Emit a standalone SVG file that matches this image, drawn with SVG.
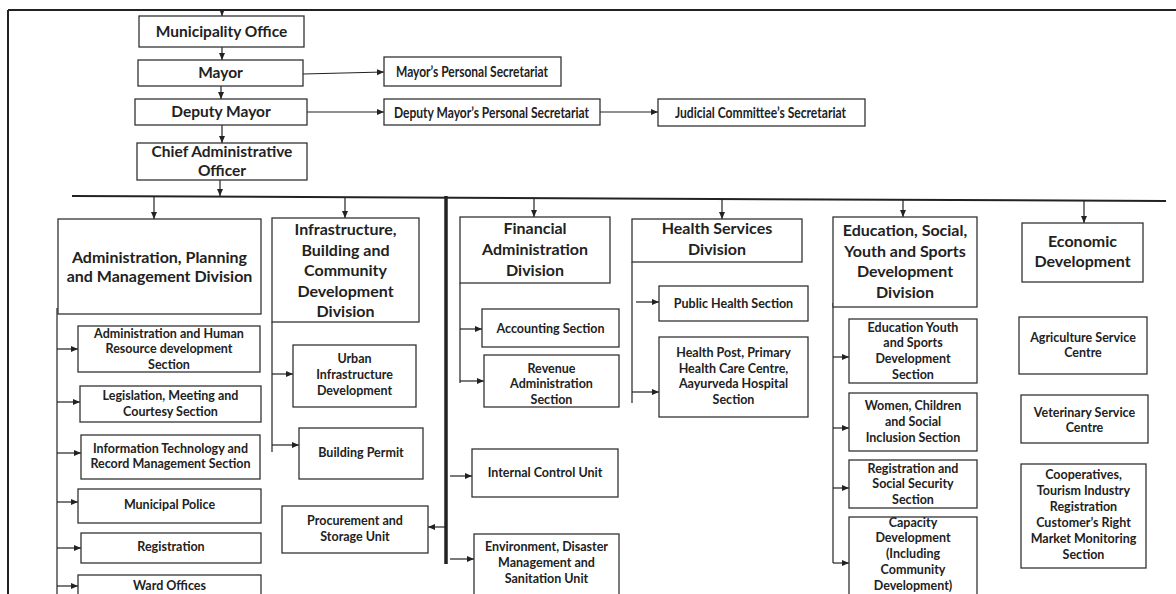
<svg xmlns="http://www.w3.org/2000/svg" width="1176" height="594" viewBox="0 0 1176 594">
<style>
rect{fill:#fff;stroke:#333;stroke-width:1.3}
text{font-family:Lato,"Liberation Sans",sans-serif;font-weight:bold;fill:#222;text-anchor:middle}
.t{font-size:15.5px}
.p{font-size:16px}
.d{font-size:16px}
.s{font-size:12.5px}
.c line,.c polyline{stroke:#222;stroke-width:1.2;fill:none}
.c .a{marker-end:url(#ah)}
</style>
<defs>
<marker id="ah" markerUnits="userSpaceOnUse" markerWidth="8" markerHeight="7" refX="7" refY="3" orient="auto"><path d="M0,0 L7,3 L0,6 z" fill="#222"/></marker>
</defs>
<rect x="0" y="0" width="1176" height="594" style="fill:#fff;stroke:none"/>
<g id="connectors" class="c">
<line x1="8" y1="10" x2="1176" y2="10" style="stroke-width:2"/>
<line x1="8" y1="10" x2="8" y2="594" style="stroke-width:2"/>
<line class="a" x1="222" y1="10" x2="222" y2="16"/>
<line class="a" x1="222" y1="47" x2="222" y2="60"/>
<line class="a" x1="221" y1="86" x2="221" y2="99"/>
<line class="a" x1="222" y1="125" x2="222" y2="143"/>
<line class="a" x1="220" y1="180" x2="220" y2="196"/>
<line class="a" x1="303" y1="74" x2="384" y2="72"/>
<line class="a" x1="307" y1="112" x2="384" y2="112"/>
<line class="a" x1="600" y1="112" x2="658" y2="112"/>
<line x1="72" y1="196" x2="1166" y2="201" style="stroke-width:2"/>
<line x1="446" y1="196" x2="446" y2="564" style="stroke-width:3.5"/>
<line class="a" x1="154" y1="197" x2="154" y2="219"/>
<line class="a" x1="345" y1="198" x2="345" y2="218"/>
<line class="a" x1="534" y1="199" x2="534" y2="217"/>
<line class="a" x1="722" y1="199" x2="722" y2="219"/>
<line class="a" x1="903" y1="200" x2="903" y2="217"/>
<line class="a" x1="1084" y1="201" x2="1084" y2="223"/>
<line x1="57" y1="308" x2="57" y2="594"/>
<line class="a" x1="57" y1="349" x2="78" y2="349"/>
<line class="a" x1="57" y1="402" x2="80" y2="402"/>
<line class="a" x1="57" y1="453" x2="81" y2="453"/>
<line class="a" x1="57" y1="502" x2="78" y2="502"/>
<line class="a" x1="57" y1="548" x2="81" y2="548"/>
<line class="a" x1="57" y1="586" x2="78" y2="586"/>
<line x1="272" y1="322" x2="272" y2="452"/>
<line class="a" x1="272" y1="374" x2="293" y2="374"/>
<line class="a" x1="272" y1="445" x2="299" y2="445"/>
<line class="a" x1="446" y1="527" x2="428" y2="527"/>
<line class="a" x1="450" y1="476" x2="472" y2="476"/>
<line class="a" x1="450" y1="559" x2="474" y2="559"/>
<line x1="460" y1="283" x2="460" y2="383"/>
<line class="a" x1="460" y1="329" x2="482" y2="329"/>
<line class="a" x1="460" y1="381" x2="484" y2="381"/>
<line x1="632" y1="262" x2="632" y2="403"/>
<line class="a" x1="636" y1="302" x2="659" y2="302"/>
<line class="a" x1="632" y1="392" x2="659" y2="392"/>
<line x1="833" y1="303" x2="833" y2="563"/>
<line class="a" x1="833" y1="357" x2="849" y2="357"/>
<line class="a" x1="833" y1="428" x2="849" y2="428"/>
<line class="a" x1="833" y1="488" x2="849" y2="488"/>
<line class="a" x1="833" y1="563" x2="849" y2="563"/>
</g>
<g id="municipality"><rect x="139" y="16" width="165" height="31"/><text class="t" x="221.5" y="37">Municipality Office</text></g>
<g id="mayor"><rect x="138" y="60" width="165" height="26"/><text class="t" x="220.5" y="78">Mayor</text></g>
<g id="deputy"><rect x="135" y="99" width="172" height="26"/><text class="t" x="221" y="117">Deputy Mayor</text></g>
<g id="cao"><rect x="137" y="143" width="170" height="37"/><text class="t" x="222" y="157">Chief Administrative</text><text class="t" x="222" y="176">Officer</text></g>
<g id="mps"><rect x="384" y="57" width="177" height="29"/><text class="p" x="472" y="77" textLength="152" lengthAdjust="spacingAndGlyphs">Mayor’s Personal Secretariat</text></g>
<g id="dmps"><rect x="384" y="99" width="216" height="26"/><text class="p" x="491.5" y="118" textLength="195" lengthAdjust="spacingAndGlyphs">Deputy Mayor’s Personal Secretariat</text></g>
<g id="judicial"><rect x="658" y="99" width="207" height="27"/><text class="p" x="760.5" y="118" textLength="171" lengthAdjust="spacingAndGlyphs">Judicial Committee’s Secretariat</text></g>
<g id="admin"><rect x="58" y="219" width="203" height="95"/><text class="d" x="159.5" y="263">Administration, Planning</text><text class="d" x="159.5" y="282">and Management Division</text></g>
<g id="infra"><rect x="272" y="218" width="147" height="104"/><text class="d" x="345.5" y="235">Infrastructure,</text><text class="d" x="345.5" y="256">Building and</text><text class="d" x="345.5" y="276">Community</text><text class="d" x="345.5" y="297">Development</text><text class="d" x="345.5" y="317">Division</text></g>
<g id="financial"><rect x="460" y="217" width="150" height="66"/><text class="d" x="535" y="234">Financial</text><text class="d" x="535" y="255">Administration</text><text class="d" x="535" y="276">Division</text></g>
<g id="health"><rect x="632" y="219" width="170" height="43"/><text class="d" x="717" y="234">Health Services</text><text class="d" x="717" y="255">Division</text></g>
<g id="education"><rect x="833" y="217" width="144" height="90"/><text class="d" x="905" y="236">Education, Social,</text><text class="d" x="905" y="257">Youth and Sports</text><text class="d" x="905" y="277">Development</text><text class="d" x="905" y="298">Division</text></g>
<g id="economic"><rect x="1022" y="223" width="121" height="59"/><text class="d" x="1082.5" y="247">Economic</text><text class="d" x="1082.5" y="267">Development</text></g>
<g id="adminhr"><rect x="78" y="326" width="182" height="46"/><text class="s" x="169" y="338">Administration and Human</text><text class="s" x="169" y="353">Resource development</text><text class="s" x="169" y="369">Section</text></g>
<g id="legislation"><rect x="80" y="386" width="181" height="36"/><text class="s" x="170.5" y="400">Legislation, Meeting  and</text><text class="s" x="170.5" y="416">Courtesy Section</text></g>
<g id="it"><rect x="81" y="435" width="179" height="44"/><text class="s" x="170.5" y="453">Information Technology and</text><text class="s" x="170.5" y="468">Record Management Section</text></g>
<g id="police"><rect x="78" y="489" width="183" height="34"/><text class="s" x="169.5" y="509">Municipal Police</text></g>
<g id="registration"><rect x="81" y="533" width="180" height="30"/><text class="s" x="171" y="551">Registration</text></g>
<g id="ward"><rect x="78" y="575" width="183" height="30"/><text class="s" x="169.5" y="590">Ward Offices</text></g>
<g id="urban"><rect x="293" y="345" width="123" height="62"/><text class="s" x="354.5" y="363">Urban</text><text class="s" x="354.5" y="379">Infrastructure</text><text class="s" x="354.5" y="395">Development</text></g>
<g id="building"><rect x="299" y="428" width="124" height="51"/><text class="s" x="361" y="457">Building Permit</text></g>
<g id="procurement"><rect x="282" y="506" width="146" height="47"/><text class="s" x="355" y="525">Procurement and</text><text class="s" x="355" y="541">Storage Unit</text></g>
<g id="accounting"><rect x="482" y="309" width="137" height="38"/><text class="s" x="550.5" y="333">Accounting Section</text></g>
<g id="revenue"><rect x="484" y="355" width="135" height="52"/><text class="s" x="551.5" y="373">Revenue</text><text class="s" x="551.5" y="388">Administration</text><text class="s" x="551.5" y="404">Section</text></g>
<g id="publichealth"><rect x="659" y="286" width="149" height="35"/><text class="s" x="733.5" y="308">Public Health Section</text></g>
<g id="healthpost"><rect x="659" y="337" width="149" height="80"/><text class="s" x="733.5" y="357">Health Post, Primary</text><text class="s" x="733.5" y="373">Health Care Centre,</text><text class="s" x="733.5" y="388">Aayurveda Hospital</text><text class="s" x="733.5" y="404">Section</text></g>
<g id="internal"><rect x="472" y="449" width="146" height="48"/><text class="s" x="545" y="477">Internal Control Unit</text></g>
<g id="environment"><rect x="474" y="534" width="145" height="70"/><text class="s" x="546.5" y="551">Environment, Disaster</text><text class="s" x="546.5" y="567">Management and</text><text class="s" x="546.5" y="583">Sanitation Unit</text></g>
<g id="eduyouth"><rect x="849" y="319" width="128" height="64"/><text class="s" x="913" y="332">Education Youth</text><text class="s" x="913" y="347">and Sports</text><text class="s" x="913" y="363">Development</text><text class="s" x="913" y="379">Section</text></g>
<g id="women"><rect x="849" y="393" width="128" height="58"/><text class="s" x="913" y="410">Women, Children</text><text class="s" x="913" y="426">and Social</text><text class="s" x="913" y="442">Inclusion Section</text></g>
<g id="regsocial"><rect x="849" y="460" width="128" height="48"/><text class="s" x="913" y="473">Registration and</text><text class="s" x="913" y="488">Social Security</text><text class="s" x="913" y="504">Section</text></g>
<g id="capacity"><rect x="849" y="517" width="128" height="85"/><text class="s" x="913" y="527">Capacity</text><text class="s" x="913" y="542">Development</text><text class="s" x="913" y="558">(Including</text><text class="s" x="913" y="574">Community</text><text class="s" x="913" y="590">Development)</text></g>
<g id="agriculture"><rect x="1019" y="317" width="128" height="57"/><text class="s" x="1083" y="342">Agriculture Service</text><text class="s" x="1083" y="357">Centre</text></g>
<g id="veterinary"><rect x="1021" y="395" width="127" height="48"/><text class="s" x="1084.5" y="417">Veterinary Service</text><text class="s" x="1084.5" y="432">Centre</text></g>
<g id="cooperatives"><rect x="1021" y="464" width="125" height="104"/><text class="s" x="1083.5" y="479">Cooperatives,</text><text class="s" x="1083.5" y="495">Tourism Industry</text><text class="s" x="1083.5" y="511">Registration</text><text class="s" x="1083.5" y="527">Customer’s Right</text><text class="s" x="1083.5" y="543">Market Monitoring</text><text class="s" x="1083.5" y="559">Section</text></g>
</svg>
